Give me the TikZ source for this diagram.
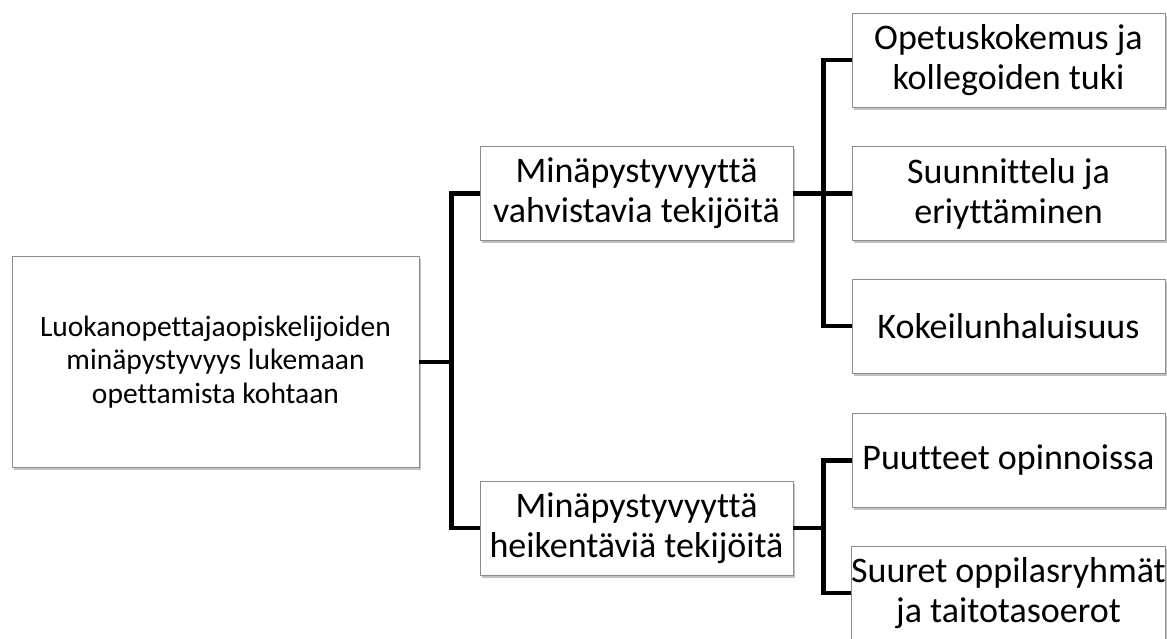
\documentclass[tikz,border=0pt]{standalone}
\usepackage{fontspec}
\setmainfont{Carlito}[Ligatures=NoCommon]
\usetikzlibrary{shadows,calc}
\begin{document}
\begin{tikzpicture}[x=1pt,y=-1pt,
  box/.style={draw=black!45, line width=0.8pt, fill=white, align=center, inner sep=0pt,
    minimum width=313pt, minimum height=94pt, font=\fontsize{36}{40}\selectfont,
    drop shadow={shadow xshift=1.5pt, shadow yshift=-2.5pt, opacity=0.35, fill=black!70}},
  rootbox/.style={box, minimum width=407pt, minimum height=211pt, font=\fontsize{29.5}{33.5}\selectfont},
  conn/.style={draw=black, line width=4.5pt}]
\useasboundingbox (0,0) rectangle (1167,638);
\clip (0,0) rectangle (1167,638);
\node[rootbox] (root) at (215.5,362) {Luokanopettajaopiskelijoiden\\minäpystyvyys lukemaan\\opettamista kohtaan};
\node[box] (m1) at (636.5,193.5) {Minäpystyvyyttä\\vahvistavia tekijöitä};
\node[box] (m2) at (636.5,528) {Minäpystyvyyttä\\heikentäviä tekijöitä};
\node[box] (r1) at (1008.5,60) {Opetuskokemus ja\\kollegoiden tuki};
\node[box] (r2) at (1008.5,193.5) {Suunnittelu ja\\eriyttäminen};
\node[box] (r3) at (1008.5,326) {Kokeilunhaluisuus};
\node[box] (r4) at (1008.5,460.5) {Puutteet opinnoissa};
\node[box] (r5) at (1008.5,593) {Suuret oppilasryhmät\\ja taitotasoerot};
\coordinate (j1) at ($(root.east)+(32,0)$);
\coordinate (j2) at ($(m1.east)+(30,0)$);
\coordinate (j3) at ($(m2.east)+(30,0)$);
\draw[conn] (root.east) -- (j1);
\draw[conn] (m1.west) -| (j1) |- (m2.west);
\draw[conn] (m1.east) -- (r2.west);
\draw[conn] (r1.west) -| (j2) |- (r3.west);
\draw[conn] (m2.east) -- (j3);
\draw[conn] (r4.west) -| (j3) |- (r5.west);
\end{tikzpicture}
\end{document}
